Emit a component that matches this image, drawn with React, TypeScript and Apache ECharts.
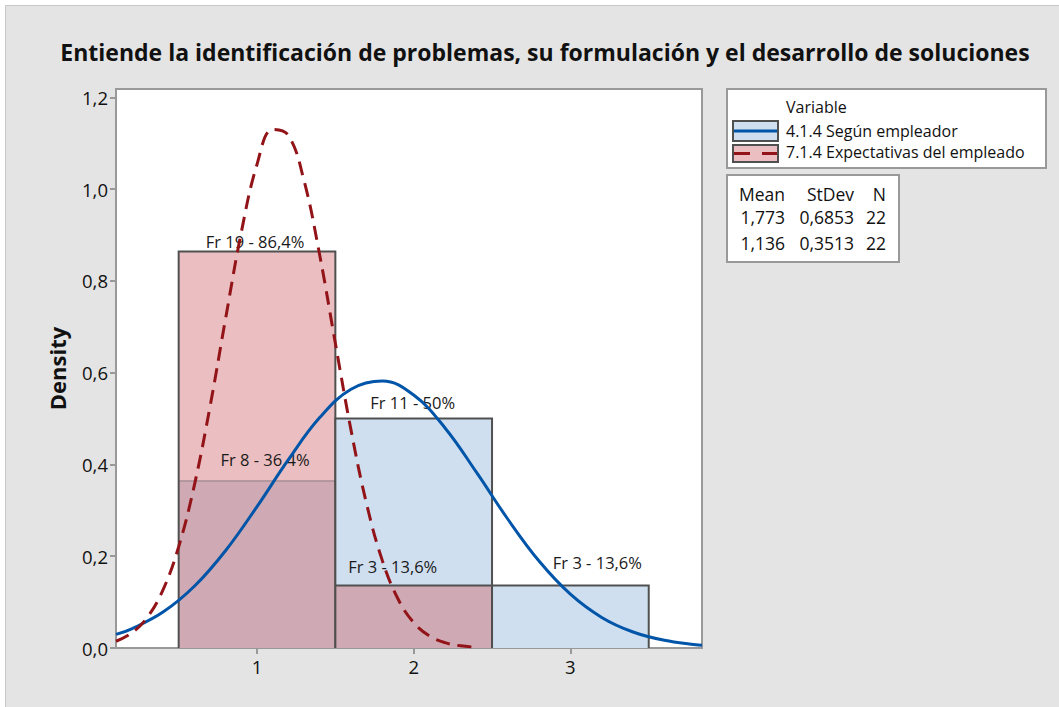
import React, { useEffect, useRef } from "react";
import * as echarts from "echarts";

const TITLE = "Entiende la identificación de problemas, su formulación y el desarrollo de soluciones";
const Y_NAME = "Density";
const LEGEND_TITLE = "Variable";
const SERIES_NAMES = ["4.1.4 Según empleador", "7.1.4 Expectativas del empleado"];

const BIN_LO = [0.5, 1.5, 2.5];
const BIN_HI = [1.5, 2.5, 3.5];
const BLUE_DENSITY = [0.364, 0.5, 0.136];
const RED_DENSITY = [0.864, 0.136, 0];
const BLUE_FREQ = [8, 11, 3];
const RED_FREQ = [19, 3, 0];
const BLUE_PCT = ["36,4%", "50%", "13,6%"];
const RED_PCT = ["86,4%", "13,6%", ""];

const BLUE_CURVE_X = [0.1, 0.2, 0.4, 0.6, 0.8, 1.0, 1.2, 1.4, 1.6, 1.8, 2.0, 2.2, 2.4, 2.6, 2.8, 3.0, 3.2, 3.4, 3.6, 3.8, 3.84];
const BLUE_CURVE_Y = [0.0296, 0.0418, 0.0782, 0.1345, 0.2125, 0.3081, 0.4104, 0.502, 0.5639, 0.5817, 0.5511, 0.4795, 0.3831, 0.2811, 0.1894, 0.1172, 0.0666, 0.0348, 0.0167, 0.0073, 0.0062];
const RED_CURVE_X = [0.1, 0.2, 0.3, 0.4, 0.5, 0.6, 0.7, 0.8, 0.9, 1.0, 1.1, 1.2, 1.3, 1.4, 1.5, 1.6, 1.7, 1.8, 1.9, 2.0, 2.1, 2.2, 2.3, 2.4];
const RED_CURVE_Y = [0.0147, 0.0327, 0.0669, 0.1265, 0.2207, 0.3545, 0.5258, 0.7189, 0.9062, 1.0536, 1.1297, 1.1169, 1.0184, 0.8562, 0.6639, 0.4747, 0.313, 0.1903, 0.1067, 0.0552, 0.0263, 0.0116, 0.0047, 0.0018];

const STATS_HEADER = ["Mean", "StDev", "N"];
const STATS_ROWS = [
  ["1,773", "0,6853", "22"],
  ["1,136", "0,3513", "22"],
];

const X_TICKS = [1, 2, 3];
const Y_TICKS = [0, 0.2, 0.4, 0.6, 0.8, 1.0, 1.2];
const X_MIN = 0.1;
const X_MAX = 3.84;
const Y_MAX = 1.218;

// layout / style
const FONT = "'Open Sans', 'Noto Sans', sans-serif";
const BLUE_FILL = "#cfdff0";
const RED_FILL = "#ebbfc1";
const OVERLAP_FILL = "#cfa9b3";
const EDGE = "#505050";
const BLUE_LINE = "#0055a8";
const RED_LINE = "#921418";
const FRAME = "#999999";
const BLUE_LABEL_NUDGE = [[8, -21], [-1, -16], [27, -23]];
const RED_LABEL_NUDGE = [[-2, -10], [-21, -19], [0, 0]];

export default function App() {
  const ref = useRef<HTMLDivElement>(null);

  useEffect(() => {
    if (!ref.current) return;
    const chart = echarts.init(ref.current, undefined, { renderer: "svg" });

    const binData = BIN_LO.map((lo, i) => [lo, BIN_HI[i], BLUE_DENSITY[i], RED_DENSITY[i]]);
    const fmt = (v: number) => v.toFixed(1).replace(".", ",");

    const renderItem = (params: any, api: any) => {
      const i = params.dataIndex;
      const lo = api.value(0);
      const hi = api.value(1);
      const b = api.value(2);
      const r = api.value(3);
      const p0 = api.coord([lo, 0]);
      const p1 = api.coord([hi, 0]);
      const x0 = p0[0];
      const x1 = p1[0];
      const y0 = p0[1];
      const yB = api.coord([lo, b])[1];
      const yR = api.coord([lo, r])[1];
      const children: any[] = [];
      if (b > 0) children.push({ type: "rect", shape: { x: x0, y: yB, width: x1 - x0, height: y0 - yB }, style: { fill: BLUE_FILL } });
      if (r > 0) children.push({ type: "rect", shape: { x: x0, y: yR, width: x1 - x0, height: y0 - yR }, style: { fill: RED_FILL } });
      const m = Math.min(b, r);
      const yM = api.coord([lo, m])[1];
      if (m > 0) children.push({ type: "rect", shape: { x: x0, y: yM, width: x1 - x0, height: y0 - yM }, style: { fill: OVERLAP_FILL } });
      const top = Math.max(b, r);
      const yT = api.coord([lo, top])[1];
      if (m > 0) {
        children.push({
          type: "line",
          shape: { x1: x0, y1: yM, x2: x1, y2: yM },
          style: r < b ? { stroke: EDGE, lineWidth: 2 } : { stroke: "#8e7c85", lineWidth: 1 },
        });
      }
      children.push({
        type: "polyline",
        shape: { points: [[x0, y0], [x0, yT], [x1, yT], [x1, y0]] },
        style: { stroke: EDGE, lineWidth: 2, fill: "none" },
      });
      const cx = (x0 + x1) / 2;
      const addLabel = (h: number, freq: number, pct: string, nudge: number[]) => {
        if (h <= 0) return;
        const yy = api.coord([lo, h])[1];
        children.push({
          type: "text",
          x: cx + nudge[0],
          y: yy + nudge[1],
          style: {
            text: "Fr " + freq + " - " + pct,
            fill: "#1a1a1a",
            fontSize: 16.5,
            fontFamily: FONT,
            align: "center",
            verticalAlign: "middle",
            textAlign: "center",
            textVerticalAlign: "middle",
          },
        });
      };
      addLabel(b, BLUE_FREQ[i], BLUE_PCT[i], BLUE_LABEL_NUDGE[i]);
      addLabel(r, RED_FREQ[i], RED_PCT[i], RED_LABEL_NUDGE[i]);
      return { type: "group", children };
    };

    const textEl = (text: string, x: number, y: number, extra: any = {}) => ({
      type: "text",
      x,
      y,
      style: {
        text,
        fill: "#111",
        fontSize: 16,
        fontFamily: FONT,
        align: "left",
        verticalAlign: "middle",
        textAlign: "left",
        textVerticalAlign: "middle",
        ...extra,
      },
    });

    const statsRight = [785, 854, 886];
    const statsY = [194, 217, 243];
    const statsEls: any[] = [];
    STATS_HEADER.forEach((h, j) =>
      statsEls.push(textEl(h, statsRight[j], statsY[0], { align: "right", textAlign: "right", fontSize: 17.5 }))
    );
    STATS_ROWS.forEach((row, k) =>
      row.forEach((v, j) =>
        statsEls.push(textEl(v, statsRight[j], statsY[k + 1], { align: "right", textAlign: "right", fontSize: 17.5 }))
      )
    );

    chart.setOption({
      animation: false,
      backgroundColor: "#ffffff",
      grid: {
        left: 116,
        right: 1059 - 702,
        top: 89,
        bottom: 707 - 648,
        show: true,
        backgroundColor: "#ffffff",
        borderColor: FRAME,
        borderWidth: 2,
      },
      xAxis: {
        type: "value",
        min: X_MIN,
        max: X_MAX,
        axisLine: { show: false },
        splitLine: { show: false },
        axisTick: { show: true, customValues: X_TICKS, length: 6, lineStyle: { color: FRAME, width: 2 } },
        axisLabel: {
          customValues: X_TICKS,
          formatter: (v: number) => String(v),
          fontSize: 18.5,
          fontFamily: FONT,
          color: "#111",
          margin: 9,
        },
      },
      yAxis: {
        type: "value",
        min: 0,
        max: Y_MAX,
        name: Y_NAME,
        nameLocation: "middle",
        nameGap: 48,
        nameRotate: 90,
        nameTextStyle: { fontSize: 22, fontWeight: "bold", fontFamily: FONT, color: "#111" },
        axisLine: { show: false },
        splitLine: { show: false },
        axisTick: { show: true, customValues: Y_TICKS, length: 6, lineStyle: { color: FRAME, width: 2 } },
        axisLabel: {
          customValues: Y_TICKS,
          formatter: (v: number) => fmt(v),
          fontSize: 18.5,
          fontFamily: FONT,
          color: "#111",
          margin: 8,
        },
      },
      graphic: [
        {
          type: "rect",
          z: -10,
          silent: true,
          shape: { x: 5.5, y: 5.5, width: 1070, height: 720 },
          style: { fill: "#e4e4e4", stroke: "#c8c8c8", lineWidth: 1 },
        },
        textEl(TITLE, 545, 52, { fontSize: 23, fontWeight: "bold", align: "center", textAlign: "center" }),
        {
          type: "rect",
          shape: { x: 727, y: 89, width: 319, height: 79 },
          style: { fill: "#ffffff", stroke: FRAME, lineWidth: 2 },
        },
        textEl(LEGEND_TITLE, 786, 107),
        {
          type: "rect",
          shape: { x: 733, y: 121, width: 45, height: 20 },
          style: { fill: BLUE_FILL, stroke: EDGE, lineWidth: 2 },
        },
        {
          type: "line",
          shape: { x1: 734, y1: 131, x2: 777, y2: 131 },
          style: { stroke: BLUE_LINE, lineWidth: 3 },
        },
        textEl(SERIES_NAMES[0], 786, 131),
        {
          type: "rect",
          shape: { x: 733, y: 145, width: 45, height: 17 },
          style: { fill: RED_FILL, stroke: EDGE, lineWidth: 2 },
        },
        {
          type: "line",
          shape: { x1: 734, y1: 153.5, x2: 777, y2: 153.5 },
          style: { stroke: RED_LINE, lineWidth: 3, lineDash: [16, 12] },
        },
        textEl(SERIES_NAMES[1], 786, 152),
        {
          type: "rect",
          shape: { x: 727, y: 175, width: 172, height: 87 },
          style: { fill: "#ffffff", stroke: FRAME, lineWidth: 2 },
        },
        ...statsEls,
      ],
      series: [
        {
          type: "custom",
          renderItem,
          data: binData,
          encode: { x: [0, 1], y: [2, 3] },
          z: 2,
        },
        {
          type: "line",
          name: SERIES_NAMES[0],
          data: BLUE_CURVE_X.map((x, i) => [x, BLUE_CURVE_Y[i]]),
          smooth: 0.4,
          showSymbol: false,
          lineStyle: { color: BLUE_LINE, width: 3 },
          z: 5,
        },
        {
          type: "line",
          name: SERIES_NAMES[1],
          data: RED_CURVE_X.map((x, i) => [x, RED_CURVE_Y[i]]),
          smooth: 0.4,
          showSymbol: false,
          lineStyle: { color: RED_LINE, width: 3, type: [14, 8] },
          z: 6,
        },
      ],
    });

    return () => chart.dispose();
  }, []);

  return <div ref={ref} style={{ position: "fixed", left: 0, top: 0, width: 1059, height: 707 }} />;
}
